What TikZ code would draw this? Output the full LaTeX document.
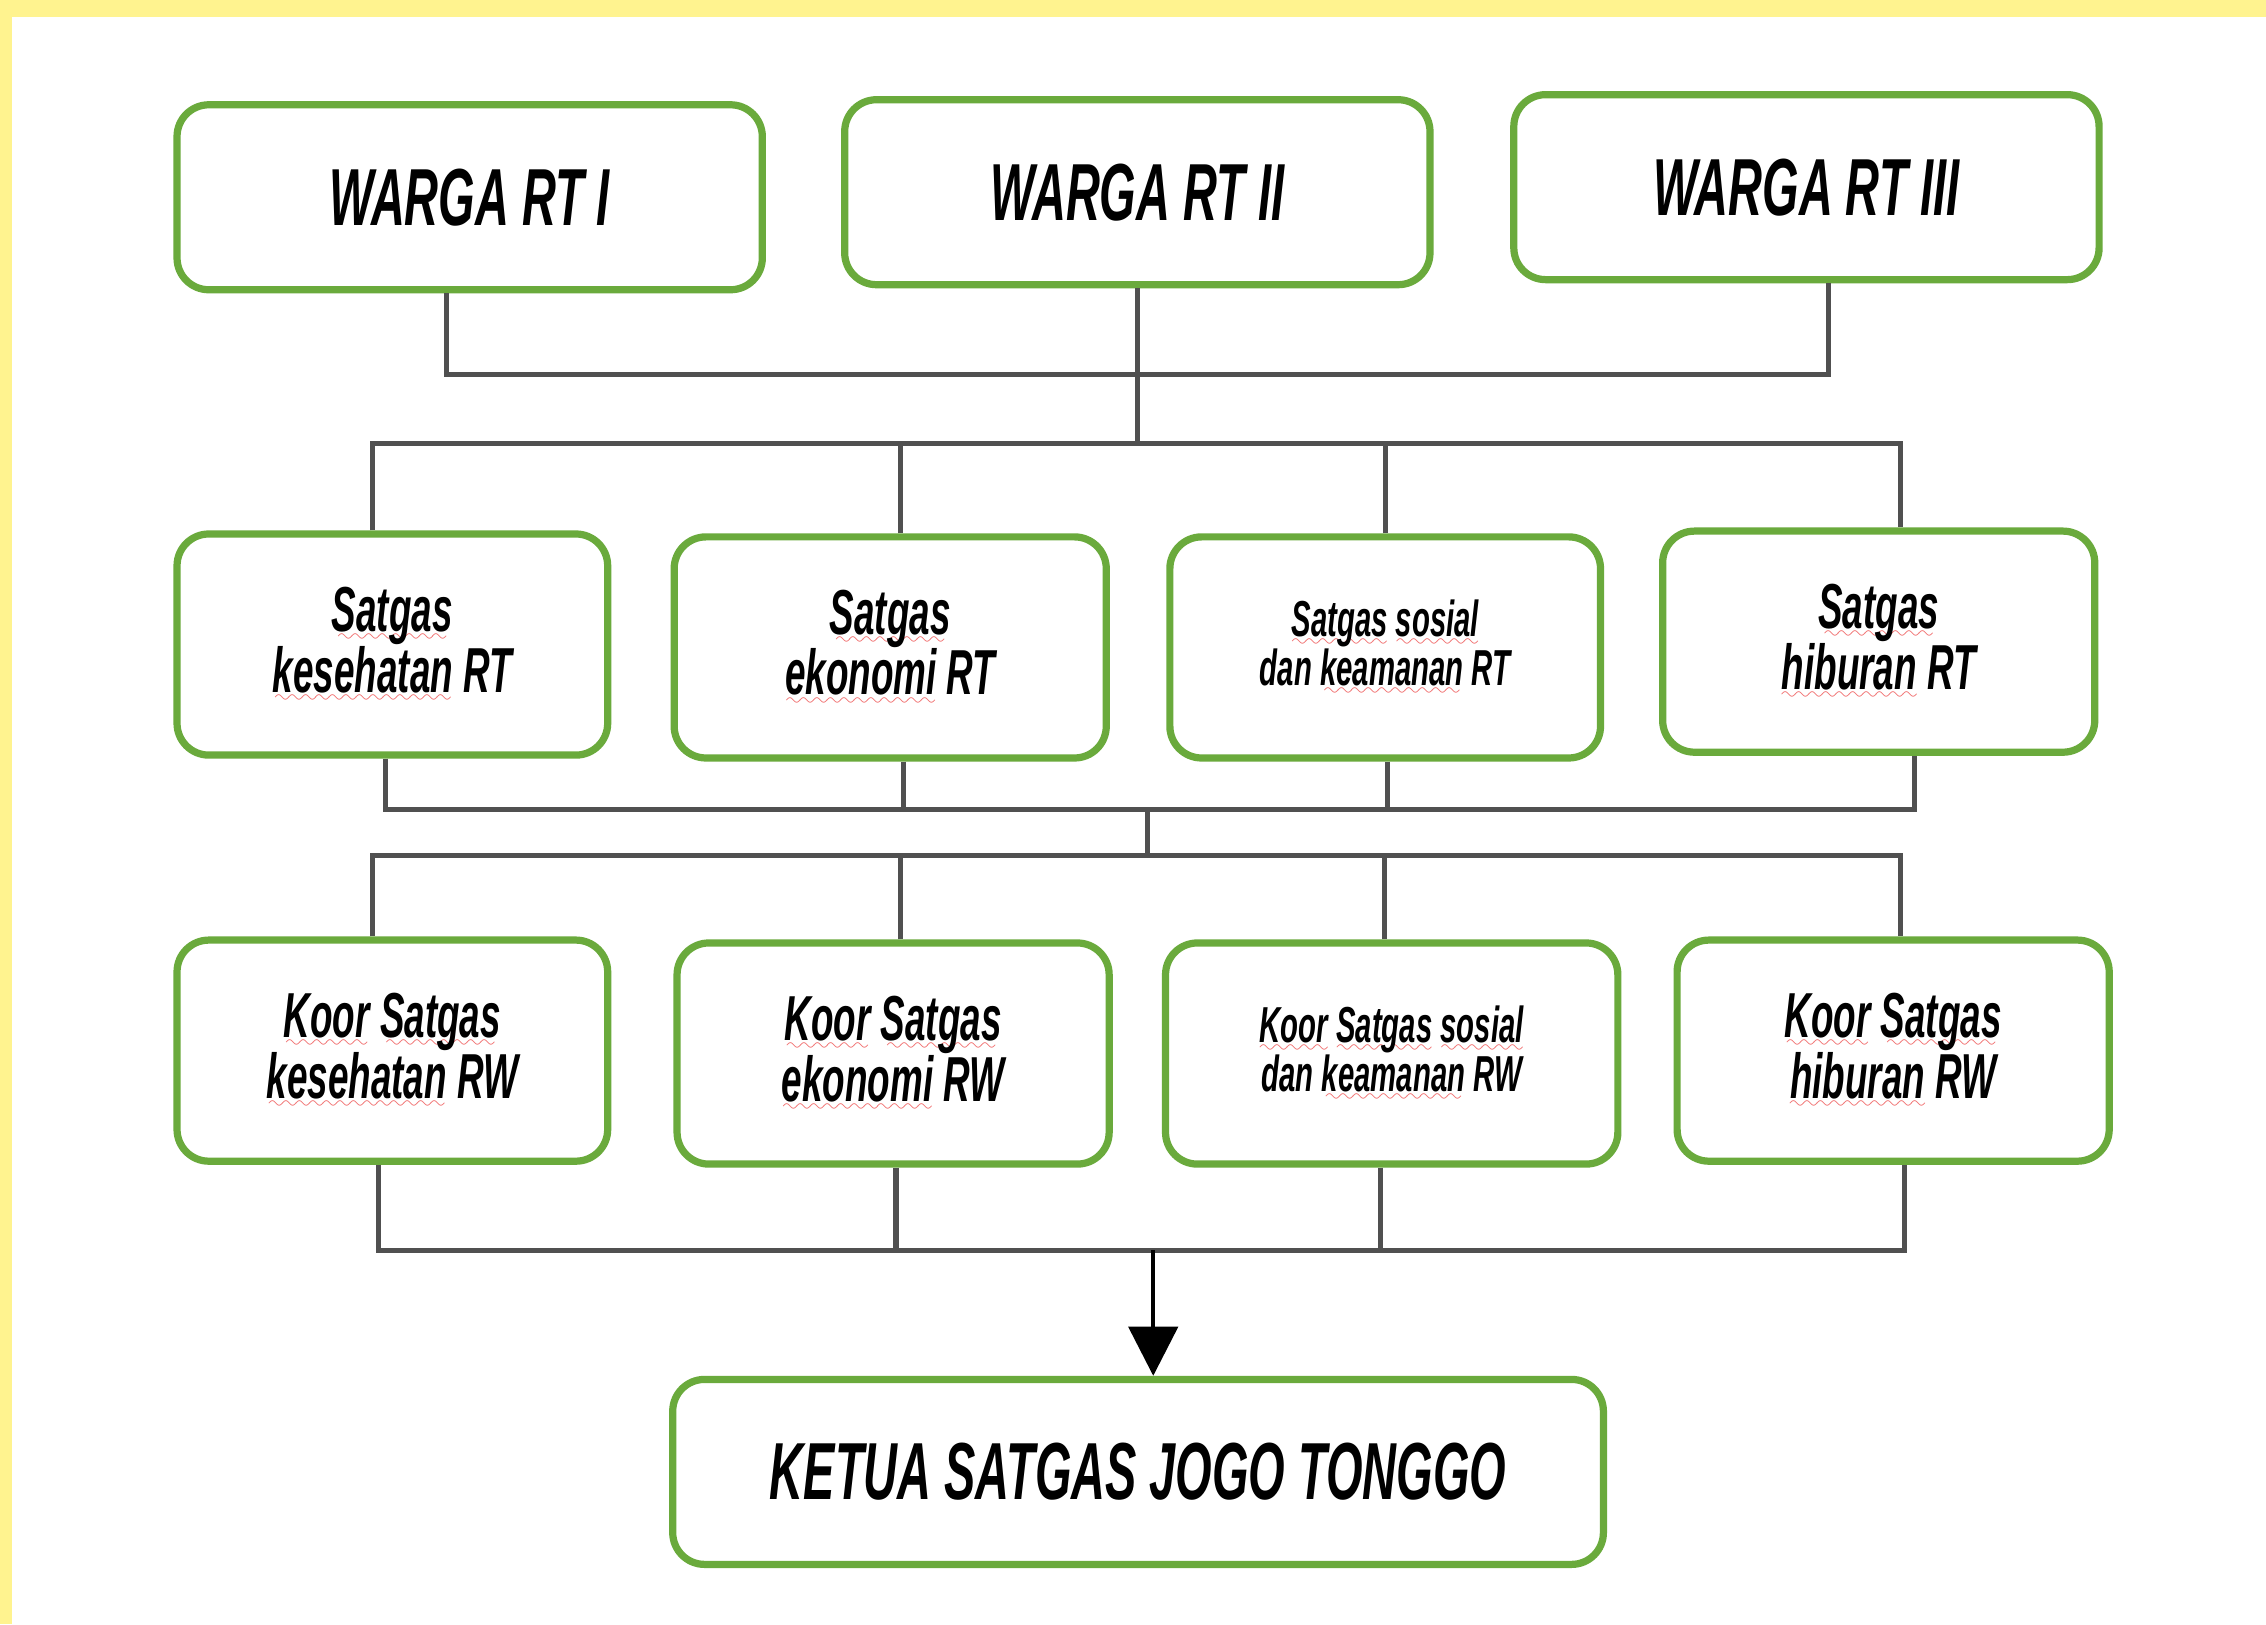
\documentclass[tikz,border=0pt]{standalone}
\usepackage{fontspec}
\newfontfamily\agency[FakeStretch=0.58]{Liberation Sans}
\usetikzlibrary{arrows.meta,calc}
\definecolor{boxgreen}{RGB}{106,170,60}
\definecolor{linegray}{RGB}{80,80,80}
\definecolor{bgyellow}{RGB}{255,243,143}
\definecolor{spellred}{RGB}{240,100,100}
\font\wavefnt=lasy10 at 14pt
\newcommand\sq[1]{\setbox0\hbox{#1}\leavevmode\rlap{\lower7pt\hbox to\wd0{\color{spellred}\cleaders\hbox{\wavefnt\char58}\hfil}}\box0\relax}
\begin{document}
\begin{tikzpicture}[x=1pt,y=-1pt,
  box/.style={draw=boxgreen,line width=5pt,rounded corners=22pt,fill=white,align=center,inner sep=0pt},
  bigtxt/.style={font=\agency\bfseries\itshape\fontsize{56}{60}\selectfont},
  midtxt/.style={font=\agency\bfseries\itshape\fontsize{44}{42}\selectfont},
  smalltxt/.style={font=\agency\bfseries\itshape\fontsize{35}{34}\selectfont},
  conn/.style={draw=linegray,line width=3.5pt},
  arr/.style={draw=black,line width=3pt,-{Triangle[width=34pt,length=34pt]}}]
\fill[bgyellow] (0,0) rectangle (1568,1124);
\fill[white] (8,12) rectangle (1568,1124);
\useasboundingbox (0,0) rectangle (1568,1124);

% row 1
\node[box,bigtxt,minimum width=405pt,minimum height=128pt] (b1) at (325,136.5) {WARGA RT I};
\node[box,bigtxt,minimum width=405pt,minimum height=128pt] (b2) at (787,133) {WARGA RT II};
\node[box,bigtxt,minimum width=405pt,minimum height=128pt] (b3) at (1250,129.5) {WARGA RT III};

% row 2
\node[box,midtxt,minimum width=298pt,minimum height=153pt] (b4) at (271.5,446) {\sq{Satgas}\\\sq{kesehatan} RT};
\node[box,midtxt,minimum width=299pt,minimum height=153pt] (b5) at (616,448) {\sq{Satgas}\\\sq{ekonomi} RT};
\node[box,smalltxt,minimum width=298pt,minimum height=153pt] (b6) at (958.5,448) {\sq{Satgas} \sq{sosial}\\dan \sq{keamanan} RT};
\node[box,midtxt,minimum width=299pt,minimum height=153pt] (b7) at (1300,444) {\sq{Satgas}\\\sq{hiburan} RT};

% row 3
\node[box,midtxt,minimum width=298pt,minimum height=153pt] (b8) at (271.5,727) {\sq{Koor} \sq{Satgas}\\\sq{kesehatan} RW};
\node[box,midtxt,minimum width=299pt,minimum height=153pt] (b9) at (618,729) {\sq{Koor} \sq{Satgas}\\\sq{ekonomi} RW};
\node[box,smalltxt,minimum width=313pt,minimum height=153pt] (b10) at (963,729) {\sq{Koor} \sq{Satgas} \sq{sosial}\\dan \sq{keamanan} RW};
\node[box,midtxt,minimum width=299pt,minimum height=153pt] (b11) at (1310,727) {\sq{Koor} \sq{Satgas}\\\sq{hiburan} RW};

% bottom
\node[box,bigtxt,minimum width=644pt,minimum height=128pt] (b12) at (787.5,1018.5) {KETUA SATGAS JOGO TONGGO};

% junctions
\coordinate (m1) at (786,259);
\coordinate (m2) at (786,307);
\coordinate (m3) at (794,560);
\coordinate (m4) at (794,592);
\coordinate (m5) at (798,865);

% connectors row 1
\draw[conn] ([xshift=-16pt]b1.south) |- (m1) -| ([xshift=15pt]b3.south);
\draw[conn] (b2.south) -- (b2.south |- m2);
% bus 2
\draw[conn] ([xshift=-13.5pt]b4.north) |- (m2) -| ([xshift=15pt]b7.north);
\draw[conn] ([xshift=7pt]b5.north) -- ([xshift=7pt]b5.north |- m2);
\draw[conn] (b6.north) -- (b6.north |- m2);
% bus 3
\draw[conn] ([xshift=-4.5pt]b4.south) |- (m3) -| ([xshift=25pt]b7.south);
\draw[conn] ([xshift=9pt]b5.south) -- ([xshift=9pt]b5.south |- m3);
\draw[conn] ([xshift=1.5pt]b6.south) -- ([xshift=1.5pt]b6.south |- m3);
\draw[conn] (m3) -- (m4);
% bus 4
\draw[conn] ([xshift=-13.5pt]b8.north) |- (m4) -| ([xshift=5pt]b11.north);
\draw[conn] ([xshift=5pt]b9.north) -- ([xshift=5pt]b9.north |- m4);
\draw[conn] ([xshift=-5pt]b10.north) -- ([xshift=-5pt]b10.north |- m4);
% bus 5
\draw[conn] ([xshift=-9.5pt]b8.south) |- (m5) -| ([xshift=8pt]b11.south);
\draw[conn] ([xshift=2pt]b9.south) -- ([xshift=2pt]b9.south |- m5);
\draw[conn] ([xshift=-8pt]b10.south) -- ([xshift=-8pt]b10.south |- m5);
\draw[arr] (m5) -- ([xshift=10.5pt]b12.north);
\end{tikzpicture}
\end{document}
